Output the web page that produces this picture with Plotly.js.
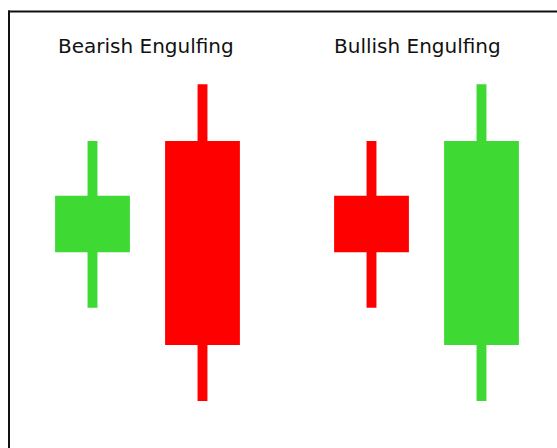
<!DOCTYPE html>
<html>
<head>
<meta charset="utf-8">
<script src="https://cdn.plot.ly/plotly-3.0.1.min.js"></script>
<style>
  html, body { margin: 0; padding: 0; background: #ffffff; }
  #chart { width: 557px; height: 448px; }
</style>
</head>
<body>
<div id="chart"></div>
<script>
// Pattern names (panel titles) and the two sessions in each pattern
const patterns = ["Bearish Engulfing", "Bullish Engulfing"];
const days = ["Day 1", "Day 2"];

// OHLC values per pattern: [day1, day2]
const openVals  = [[49.2, 77.0], [63.3, 26.0]];
const closeVals = [[63.3, 26.0], [49.2, 77.0]];
const highVals  = [[77.0, 91.2], [77.0, 91.2]];
const lowVals   = [[35.3, 12.0], [35.3, 12.0]];

const UP = "#3fd933";
const DOWN = "#ff0000";

const traces = [];
patterns.forEach(function (name, p) {
  const xa = p === 0 ? "x" : "x2";
  const ya = p === 0 ? "y" : "y2";
  const colors = days.map(function (d, i) {
    return closeVals[p][i] >= openVals[p][i] ? UP : DOWN;
  });
  // wick: from low to high
  traces.push({
    type: "bar",
    x: days,
    base: lowVals[p],
    y: highVals[p].map(function (h, i) { return h - lowVals[p][i]; }),
    width: 0.09,
    marker: { color: colors, line: { width: 0 } },
    xaxis: xa, yaxis: ya,
    hoverinfo: "skip",
    showlegend: false
  });
  // body: from open to close
  traces.push({
    type: "bar",
    x: days,
    base: openVals[p].map(function (o, i) { return Math.min(o, closeVals[p][i]); }),
    y: openVals[p].map(function (o, i) { return Math.abs(closeVals[p][i] - o); }),
    width: 0.68,
    marker: { color: colors, line: { width: 0 } },
    xaxis: xa, yaxis: ya,
    hoverinfo: "skip",
    showlegend: false
  });
});

const W = 557, H = 448;
const axisCommon = { visible: false, fixedrange: true, showgrid: false, zeroline: false };

const layout = {
  width: W, height: H,
  margin: { l: 0, r: 0, t: 0, b: 0, pad: 0 },
  paper_bgcolor: "#ffffff",
  plot_bgcolor: "rgba(0,0,0,0)",
  barmode: "overlay",
  showlegend: false,
  xaxis:  Object.assign({}, axisCommon, { type: "category", range: [-0.5, 1.5], domain: [37.5 / W, 257.5 / W], anchor: "y" }),
  xaxis2: Object.assign({}, axisCommon, { type: "category", range: [-0.5, 1.5], domain: [316.5 / W, 536.5 / W], anchor: "y2" }),
  yaxis:  Object.assign({}, axisCommon, { range: [0.25, 112.25], domain: [0, 1], anchor: "x" }),
  yaxis2: Object.assign({}, axisCommon, { range: [0.25, 112.25], domain: [0, 1], anchor: "x2" }),
  annotations: [
    { text: patterns[0], xref: "paper", yref: "paper", x: 146 / W, y: 1 - 45.5 / H,
      xanchor: "center", yanchor: "middle", showarrow: false,
      font: { family: "DejaVu Sans", size: 20, color: "#111111" } },
    { text: patterns[1], xref: "paper", yref: "paper", x: 417 / W, y: 1 - 45.5 / H,
      xanchor: "center", yanchor: "middle", showarrow: false,
      font: { family: "DejaVu Sans", size: 20, color: "#111111" } }
  ],
  shapes: [
    { type: "line", xref: "paper", yref: "paper", x0: 9 / W, x1: 9 / W, y0: 1 - 10.5 / H, y1: -0.05,
      line: { color: "#111111", width: 2 } },
    { type: "line", xref: "paper", yref: "paper", x0: 8 / W, x1: 1.05, y0: 1 - 11.5 / H, y1: 1 - 11.5 / H,
      line: { color: "#111111", width: 2 } }
  ]
};

Plotly.newPlot("chart", traces, layout, { staticPlot: true, displayModeBar: false });
</script>
</body>
</html>
